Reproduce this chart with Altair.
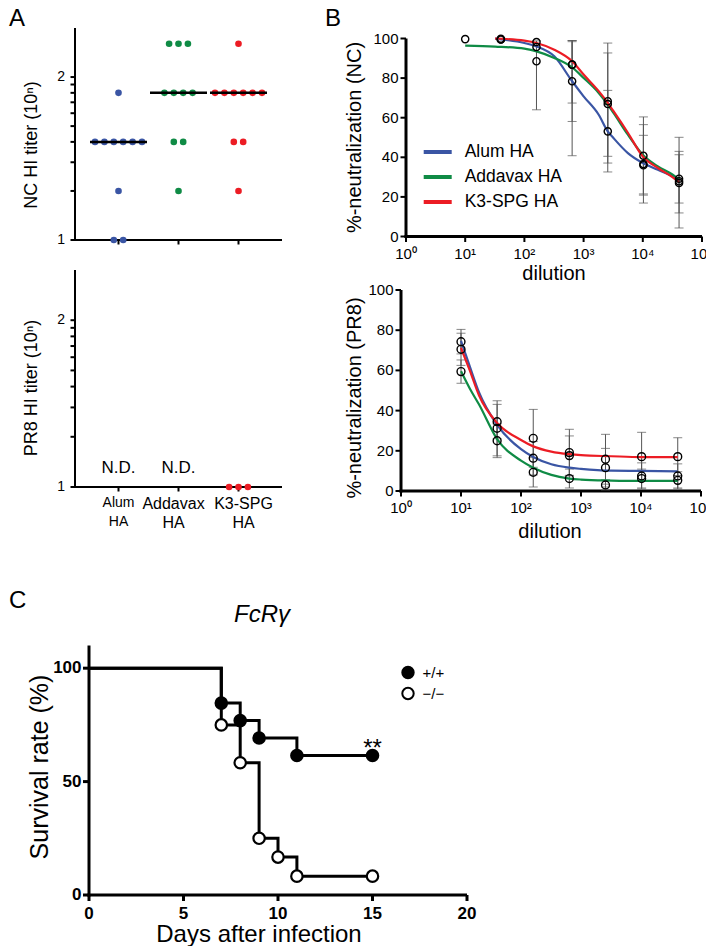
import altair as alt
import pandas as pd

FONT = "Liberation Sans"

# ---------------- data ----------------
groups = ["Alum HA", "Addavax HA", "K3-SPG HA"]
group_colors = ["#3A55A4", "#0F8B45", "#EC1C24"]

# Panel A: HI titers of individual mice (titer = 10^n)
nc_titer = {
    "Alum HA": [10, 10, 20, 40, 40, 40, 40, 40, 40, 80],
    "Addavax HA": [20, 40, 40, 80, 80, 80, 80, 160, 160, 160],
    "K3-SPG HA": [20, 40, 40, 80, 80, 80, 80, 80, 80, 160],
}
pr8_titer = {"Alum HA": [], "Addavax HA": [], "K3-SPG HA": [10, 10, 10]}
nd_groups = ["Alum HA", "Addavax HA"]
nd_titer = [10, 10]
nd_text = ["N.D.", "N.D."]
a_tick_titers = [10, 20, 30, 40, 50, 60, 70, 80, 90, 100]
a_label_titers = [10, 100]
a_label_text = ["1", "2"]

# Panel B: neutralization (mean, error bar low/high)
dilutions = [10, 40, 160, 640, 2560, 10240, 40960]
nc_mean = {
    "Alum HA": [None, 99.5, 95.7, 78.4, 53.1, 36.6, 27.9],
    "Addavax HA": [99.7, 99.5, 88.5, 86.8, 66.9, 40.8, 29.2],
    "K3-SPG HA": [None, 99.9, 98.2, 86.8, 68.3, 36.0, 27.0],
}
nc_lo = {
    "Alum HA": [None, None, None, 58.1, 32.6, 21.5, 11.9],
    "Addavax HA": [None, None, 64.0, 67.4, 37.1, 20.9, 16.9],
    "K3-SPG HA": [None, None, None, 40.8, 40.5, 16.9, 4.3],
}
nc_hi = {
    "Alum HA": [None, None, None, 98.4, 73.8, 51.1, 43.0],
    "Addavax HA": [None, None, 98.8, 99.0, 97.7, 60.4, 41.3],
    "K3-SPG HA": [None, None, None, 99.0, 92.7, 56.5, 50.1],
}
pr8_mean = {
    "Alum HA": [74.3, 31.2, 16.3, 17.6, 11.6, 7.5, 7.5],
    "Addavax HA": [59.4, 25.0, 9.3, 6.2, 3.0, 6.2, 5.3],
    "K3-SPG HA": [70.5, 34.5, 26.2, 19.1, 15.8, 17.1, 17.1],
}
pr8_lo = {
    "Alum HA": [68.2, 17.5, 8.0, 7.8, 2.0, 1.0, 1.5],
    "Addavax HA": [53.6, 16.6, 2.0, 1.5, 0.5, 1.5, 1.0],
    "K3-SPG HA": [62.5, 26.0, 11.8, 7.5, 3.4, 5.0, 7.7],
}
pr8_hi = {
    "Alum HA": [80.4, 44.9, 24.6, 27.4, 21.2, 14.0, 13.5],
    "Addavax HA": [65.2, 33.4, 16.6, 10.9, 5.5, 10.9, 9.6],
    "K3-SPG HA": [78.5, 43.1, 40.6, 30.7, 28.2, 29.2, 26.5],
}
dil_ticks = [1, 10, 100, 1000, 10000, 100000]
dil_tick_labels = ["10\u2070", "10\u00b9", "10\u00b2", "10\u00b3", "10\u2074", "10\u2075"]
pct_ticks = [0, 20, 40, 60, 80, 100]

# fitted curves
nc_curve_x = [10, 32, 100, 160, 320, 640, 1000, 1800, 2560, 3200, 5600, 10000, 18000, 32000, 40960]
nc_curve = {
    "Alum HA": [None, 99.9, 97.7, 96.0, 91.0, 78.4, 70.8, 61.5, 53.1, 49.7, 42.1, 37.1, 33.7, 30.4, 28.7],
    "Addavax HA": [96.4, 95.9, 94.9, 93.5, 90.2, 85.4, 80.1, 72.5, 66.6, 62.4, 51.4, 41.3, 35.4, 31.2, 28.7],
    "K3-SPG HA": [None, 100.0, 98.9, 97.7, 94.3, 88.5, 81.8, 73.4, 67.5, 63.3, 52.4, 40.4, 34.6, 29.9, 27.5],
}
pr8_curve_x = [10, 14, 20, 40, 100, 160, 320, 640, 1000, 3200, 10000, 40960]
pr8_curve = {
    "Alum HA": [74.7, 62.0, 49.0, 32.9, 20.8, 16.9, 13.3, 11.6, 11.0, 10.1, 10.0, 9.8],
    "Addavax HA": [59.6, 51.0, 43.0, 25.8, 15.1, 11.6, 8.0, 6.2, 5.7, 5.2, 5.0, 5.0],
    "K3-SPG HA": [71.2, 60.0, 47.5, 33.8, 25.4, 22.2, 19.6, 18.3, 17.8, 17.3, 16.9, 16.9],
}

# Panel C: survival
genos = ["+/+", "\u2212/\u2212"]
days_wt = [0, 7, 8, 9, 11, 15]
surv_wt = [100, 84.6, 76.9, 69.2, 61.5, 61.5]
days_ko = [0, 7, 8, 9, 10, 11, 15]
surv_ko = [100, 75.0, 58.3, 25.0, 16.7, 8.3, 8.3]
sig_day = [15]
sig_surv = [61.5]
sig_text = ["**"]
day_ticks = [0, 5, 10, 15, 20]
surv_ticks = [0, 50, 100]

# ---------------- tables ----------------
def titer_table(d):
    rows = [{"group": g, "titer": v} for g in groups for v in d.get(g, [])]
    return pd.DataFrame(rows, columns=["group", "titer"])

def point_table(mean, lo, hi):
    rows = []
    for g in groups:
        for x, m, l, h in zip(dilutions, mean[g], lo[g], hi[g]):
            if m is None:
                continue
            rows.append({"group": g, "dilution": x, "mean": m, "lo": l, "hi": h})
    return pd.DataFrame(rows)

def curve_table(xs, d):
    rows = []
    for g in groups:
        for x, v in zip(xs, d[g]):
            if v is not None:
                rows.append({"group": g, "dilution": x, "value": v})
    return pd.DataFrame(rows)

df_nc = titer_table(nc_titer)
df_pr8 = titer_table(pr8_titer)
df_nd = pd.DataFrame({"group": nd_groups, "titer": nd_titer, "label": nd_text})
df_groups = pd.DataFrame({"group": groups})
df_a_ticks = pd.DataFrame({"titer": a_tick_titers})
df_a_labels = pd.DataFrame({"titer": a_label_titers, "label": a_label_text})
pts_nc = point_table(nc_mean, nc_lo, nc_hi)
pts_pr8 = point_table(pr8_mean, pr8_lo, pr8_hi)
cur_nc = curve_table(nc_curve_x, nc_curve)
cur_pr8 = curve_table(pr8_curve_x, pr8_curve)
df_dil_ticks = pd.DataFrame({"dilution": dil_ticks, "label": dil_tick_labels})
df_pct_ticks = pd.DataFrame({"v": pct_ticks})
df_surv = pd.DataFrame(
    {"geno": [genos[0]] * len(days_wt) + [genos[1]] * len(days_ko),
     "day": days_wt + days_ko,
     "surv": surv_wt + surv_ko}
)
df_sig = pd.DataFrame({"day": sig_day, "surv": sig_surv, "label": sig_text})
df_day_ticks = pd.DataFrame({"day": day_ticks})
df_surv_ticks = pd.DataFrame({"surv": surv_ticks})
ONE = pd.DataFrame({"k": [0]})

# ---------------- layout (plot-area pixels) ----------------
W, H = 698, 938
A_X = [67, 274]
A1_Y = [232, 20]
A2_Y = [479, 262]
B1_X = [398, 694]
B1_Y = [228.5, 30.5]
B2_X = [393, 693]
B2_Y = [483, 282]
C_X = [81, 459]
C_Y = [887, 637.5]
A_NMAX = 2.30103  # top of the log10 titer axis
LOG10 = "log(datum.titer) / LN10"


# ---------------- guide helpers ----------------
def vline(x, y_top, y_bot, w):
    return alt.Chart(ONE).mark_rule(strokeWidth=w, color="black").encode(
        x=alt.value(x), y=alt.value(y_top), y2=alt.value(y_bot))


def hline(y, x_left, x_right, w):
    return alt.Chart(ONE).mark_rule(strokeWidth=w, color="black").encode(
        y=alt.value(y), x=alt.value(x_left), x2=alt.value(x_right))


def text_at(text, x, y, size, **kw):
    return alt.Chart(pd.DataFrame({"t": [text]})).mark_text(
        fontSize=size, font=FONT, color="black", **kw
    ).encode(x=alt.value(x), y=alt.value(y), text="t:N")


def frame(x_range, y_range, w):
    half = w / 2
    return [vline(x_range[0], y_range[1], y_range[0] + half, w),
            hline(y_range[0], x_range[0] - half, x_range[1], w)]


color_scale = alt.Scale(domain=groups, range=group_colors)
leg_color = alt.Legend(
    title=None, orient="none", legendX=413.7, legendY=128, symbolType="stroke",
    symbolStrokeWidth=4, symbolSize=784, labelFontSize=17.5, labelFont=FONT,
    labelOffset=11, rowPadding=0, padding=0, labelColor="black",
)

# ---------------- panel A ----------------
def a_panel(df, y_range, title, title_y, extra):
    xs = alt.Scale(domain=groups, range=A_X, paddingInner=0, paddingOuter=0.225)
    ys = alt.Scale(domain=[1, A_NMAX], range=y_range, nice=False, zero=False)
    X = alt.X("group:N", scale=xs, axis=None, sort=groups)
    dots = (
        alt.Chart(df)
        .transform_calculate(n=LOG10)
        .transform_window(rank="row_number()", groupby=["group", "titer"])
        .transform_joinaggregate(cnt="count()", groupby=["group", "titer"])
        .transform_calculate(off="datum.rank - 1 - (datum.cnt - 1) / 2")
        .mark_circle(size=44, opacity=1)
        .encode(
            x=X,
            xOffset=alt.XOffset("off:Q", scale=alt.Scale(domain=[-3, 3], range=[1.8, 58.2])),
            y=alt.Y("n:Q", scale=ys, axis=None),
            color=alt.Color("group:N", scale=color_scale, legend=leg_color),
        )
    )
    yticks = alt.Chart(df_a_ticks).transform_calculate(n=LOG10).mark_rule(
        strokeWidth=2, color="black"
    ).encode(y=alt.Y("n:Q", scale=ys, axis=None), x=alt.value(A_X[0] - 4.5), x2=alt.value(A_X[0]))
    ylabels = alt.Chart(df_a_labels).transform_calculate(n=LOG10).mark_text(
        fontSize=14, align="right", baseline="middle", font=FONT, color="black"
    ).encode(y=alt.Y("n:Q", scale=ys, axis=None), x=alt.value(A_X[0] - 10), text="label:N")
    xticks = alt.Chart(df_groups).mark_rule(strokeWidth=2, color="black").encode(
        x=X, y=alt.value(y_range[0]), y2=alt.value(y_range[0] + 4.5))
    ttl = text_at(title, 24, title_y, 18, angle=270, align="center", baseline="middle")
    return alt.layer(*frame(A_X, y_range, 2), yticks, ylabels, xticks, dots, *extra(xs, ys), ttl)


def a1_extra(xs, ys):
    med = alt.Chart(df_nc).transform_calculate(n=LOG10).mark_tick(
        color="black", thickness=2.5, size=57
    ).encode(
        x=alt.X("group:N", scale=xs, axis=None, sort=groups),
        y=alt.Y("median(n):Q", scale=ys, axis=None),
    )
    return [med]


def a2_extra(xs, ys):
    nd = alt.Chart(df_nd).transform_calculate(n=LOG10).mark_text(
        fontSize=17, baseline="middle", dy=-19, font=FONT, color="black"
    ).encode(
        x=alt.X("group:N", scale=xs, axis=None, sort=groups),
        y=alt.Y("n:Q", scale=ys, axis=None),
        text="label:N",
    )

    def lab(group, size, dx):
        return alt.Chart(df_groups).transform_filter(alt.datum.group == group).mark_text(
            fontSize=size, baseline="top", lineBreak=" ", lineHeight=19, dx=dx, font=FONT, color="black"
        ).encode(x=alt.X("group:N", scale=xs, axis=None, sort=groups), y=alt.value(487.5), text="group:N")

    return [nd, lab("Alum HA", 14, 0), lab("Addavax HA", 16, -5), lab("K3-SPG HA", 16, 5)]


panel_a1 = a_panel(df_nc, A1_Y, "NC HI titer (10\u207f)", 137, a1_extra)
panel_a2 = a_panel(df_pr8, A2_Y, "PR8 HI titer (10\u207f)", 380, a2_extra)

# ---------------- panel B ----------------
def b_panel(pts, cur, x_range, y_range, ytitle, ytitle_pos, xtitle_pos, pt_size):
    xs = alt.Scale(type="log", domain=[1, 100000], range=x_range, nice=False)
    ys = alt.Scale(domain=[0, 100], range=y_range, nice=False, zero=False)
    circ = alt.Chart(pts).mark_point(
        shape="circle", size=pt_size, strokeWidth=1.4, color="black", opacity=1, filled=False
    ).encode(
        x=alt.X("dilution:Q", scale=xs, axis=None),
        y=alt.Y("mean:Q", scale=ys, axis=None),
    )
    err = alt.Chart(pts.dropna(subset=["lo"])).mark_errorbar(
        ticks=True, size=9, thickness=1, color="#555555"
    ).encode(
        x=alt.X("dilution:Q", scale=xs, axis=None),
        y=alt.Y("lo:Q", scale=ys, axis=None),
        y2="hi:Q",
    )
    lines = alt.Chart(cur).mark_line(strokeWidth=2.2, interpolate="monotone").encode(
        x=alt.X("dilution:Q", scale=xs, axis=None),
        y=alt.Y("value:Q", scale=ys, axis=None),
        color=alt.Color("group:N", scale=color_scale, legend=leg_color),
    )
    xticks = alt.Chart(df_dil_ticks).mark_rule(strokeWidth=2, color="black").encode(
        x=alt.X("dilution:Q", scale=xs, axis=None), y=alt.value(y_range[0]), y2=alt.value(y_range[0] + 5.5))
    xlabels = alt.Chart(df_dil_ticks).mark_text(
        fontSize=15, baseline="middle", align="center", font=FONT, color="black"
    ).encode(x=alt.X("dilution:Q", scale=xs, axis=None), y=alt.value(y_range[0] + 17), text="label:N")
    yticks = alt.Chart(df_pct_ticks).mark_rule(strokeWidth=2, color="black").encode(
        y=alt.Y("v:Q", scale=ys, axis=None), x=alt.value(x_range[0] - 5.5), x2=alt.value(x_range[0]))
    ylabels = alt.Chart(df_pct_ticks).mark_text(
        fontSize=15, align="right", baseline="middle", font=FONT, color="black"
    ).encode(y=alt.Y("v:Q", scale=ys, axis=None), x=alt.value(x_range[0] - 7.5),
             text=alt.Text("v:Q", format="d"))
    yt = text_at(ytitle, ytitle_pos[0], ytitle_pos[1], 20, angle=270, align="center", baseline="middle")
    xt = text_at("dilution", xtitle_pos[0], xtitle_pos[1], 20, align="center", baseline="middle")
    return alt.layer(*frame(x_range, y_range, 3), xticks, yticks, xlabels, ylabels,
                     err, lines, circ, yt, xt)


panel_b1 = b_panel(pts_nc, cur_nc, B1_X, B1_Y, "%-neutralization (NC)", (347, 129.5), (546, 265.5), 52)
panel_b2 = b_panel(pts_pr8, cur_pr8, B2_X, B2_Y, "%-neutralization (PR8)", (347, 390), (542, 524), 62)

# ---------------- panel C ----------------
c_xs = alt.Scale(domain=[0, 20], range=C_X, nice=False, zero=False)
c_ys = alt.Scale(domain=[0, 110], range=C_Y, nice=False, zero=False)
leg_fill = alt.Legend(
    title=None, orient="none", legendX=392.5, legendY=657, symbolType="circle",
    symbolSize=130, symbolStrokeColor="black", symbolStrokeWidth=2, labelFontSize=15,
    labelFont=FONT, labelOffset=7, rowPadding=0, padding=0, labelColor="black",
)
CX = alt.X("day:Q", scale=c_xs, axis=None)
CY = alt.Y("surv:Q", scale=c_ys, axis=None)
c_lines = alt.Chart(df_surv).mark_line(interpolate="step-after", strokeWidth=3, color="black").encode(
    x=CX, y=CY, detail="geno:N")
c_pts = alt.Chart(df_surv).transform_filter("datum.day > 0").mark_point(
    shape="circle", size=130, strokeWidth=2.2, stroke="black", opacity=1, fillOpacity=1
).encode(
    x=CX, y=CY,
    fill=alt.Fill("geno:N", scale=alt.Scale(domain=genos, range=["black", "white"]), legend=leg_fill),
)
c_sig = alt.Chart(df_sig).mark_text(fontSize=24, baseline="alphabetic", dy=0, font=FONT, color="black").encode(
    x=CX, y=CY, text="label:N")
c_xticks = alt.Chart(df_day_ticks).mark_rule(strokeWidth=3, color="black").encode(
    x=CX, y=alt.value(C_Y[0]), y2=alt.value(C_Y[0] + 6))
c_xlabels = alt.Chart(df_day_ticks).mark_text(
    fontSize=17, fontWeight="bold", align="center", baseline="middle", font=FONT, color="black"
).encode(x=CX, y=alt.value(C_Y[0] + 19), text=alt.Text("day:Q", format="d"))
c_yticks = alt.Chart(df_surv_ticks).mark_rule(strokeWidth=3, color="black").encode(
    y=CY, x=alt.value(C_X[0] - 6), x2=alt.value(C_X[0]))
c_ylabels = alt.Chart(df_surv_ticks).mark_text(
    fontSize=17, fontWeight="bold", align="right", baseline="middle", font=FONT, color="black"
).encode(y=CY, x=alt.value(C_X[0] - 7.5), text=alt.Text("surv:Q", format="d"))
panel_c = alt.layer(
    *frame(C_X, C_Y, 3), c_xticks, c_yticks, c_xlabels, c_ylabels, c_lines, c_pts, c_sig,
    text_at("Survival rate (%)", 32, 759, 25, angle=270, align="center", baseline="middle"),
    text_at("Days after infection", 251, 927, 24, align="center", baseline="middle"),
)

# ---------------- annotations ----------------
notes = [
    text_at("A", 1, 18, 24, align="left", baseline="alphabetic"),
    text_at("B", 317, 18, 24, align="left", baseline="alphabetic"),
    text_at("C", 1, 600, 24, align="left", baseline="alphabetic"),
    text_at("FcR\u03b3", 254, 613.5, 24, align="center", baseline="alphabetic", fontStyle="italic"),
]

chart = (
    alt.layer(panel_a1, panel_a2, panel_b1, panel_b2, panel_c, *notes)
    .resolve_scale(x="independent", y="independent")
    .properties(width=W, height=H, padding=0, autosize=alt.AutoSizeParams(type="none"))
    .configure(font=FONT)
    .configure_view(stroke=None)
)

chart.save("out.html", embed_options={"renderer": "svg", "actions": False})
